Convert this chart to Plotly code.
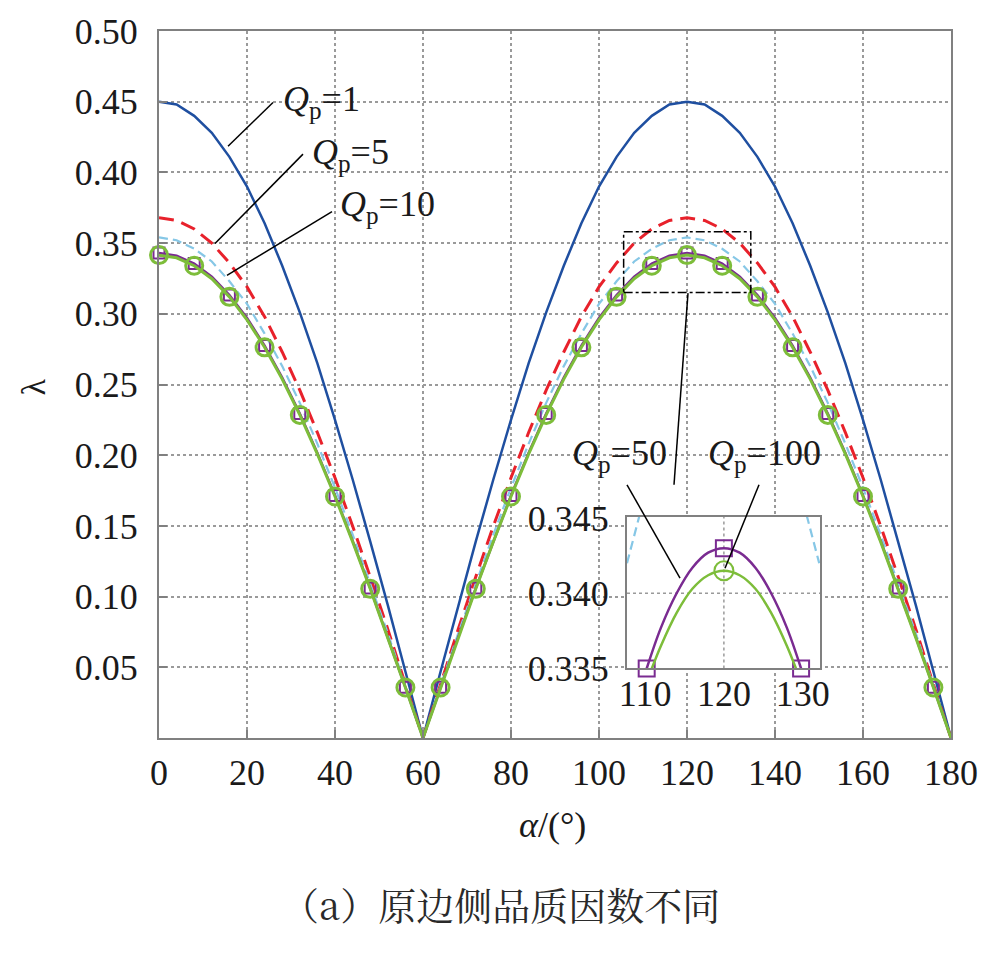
import plotly.graph_objects as go

# ---------------- data ----------------
alpha = [0, 4, 8, 12, 16, 20, 24, 28, 32, 36, 40, 44, 48, 52, 56, 60,
         64, 68, 72, 76, 80, 84, 88, 92, 96, 100, 104, 108, 112, 116, 120,
         124, 128, 132, 136, 140, 144, 148, 152, 156, 160, 164, 168, 172, 176, 180]

lam_q1 = [0.450, 0.448, 0.440, 0.428, 0.411, 0.390, 0.364, 0.334, 0.301, 0.265, 0.225, 0.183, 0.139, 0.094, 0.047, 0.000,
          0.047, 0.094, 0.139, 0.183, 0.225, 0.265, 0.301, 0.334, 0.364, 0.390, 0.411, 0.428, 0.440, 0.448, 0.450,
          0.448, 0.440, 0.428, 0.411, 0.390, 0.364, 0.334, 0.301, 0.265, 0.225, 0.183, 0.139, 0.094, 0.047, 0.000]

lam_q5 = [0.368, 0.366, 0.360, 0.350, 0.336, 0.319, 0.298, 0.273, 0.246, 0.216, 0.184, 0.150, 0.114, 0.077, 0.038, 0.000,
          0.038, 0.077, 0.114, 0.150, 0.184, 0.216, 0.246, 0.273, 0.298, 0.319, 0.336, 0.350, 0.360, 0.366, 0.368,
          0.366, 0.360, 0.350, 0.336, 0.319, 0.298, 0.273, 0.246, 0.216, 0.184, 0.150, 0.114, 0.077, 0.038, 0.000]

lam_q10 = [0.354, 0.352, 0.346, 0.337, 0.323, 0.307, 0.286, 0.263, 0.237, 0.208, 0.177, 0.144, 0.109, 0.074, 0.037, 0.000,
           0.037, 0.074, 0.109, 0.144, 0.177, 0.208, 0.237, 0.263, 0.286, 0.307, 0.323, 0.337, 0.346, 0.352, 0.354,
           0.352, 0.346, 0.337, 0.323, 0.307, 0.286, 0.263, 0.237, 0.208, 0.177, 0.144, 0.109, 0.074, 0.037, 0.000]

lam_q50 = [0.3415, 0.3396, 0.3340, 0.3248, 0.3120, 0.2957, 0.2763, 0.2538, 0.2285, 0.2007, 0.1708, 0.1389, 0.1055, 0.0710, 0.0357, 0.0,
           0.0357, 0.0710, 0.1055, 0.1389, 0.1708, 0.2007, 0.2285, 0.2538, 0.2763, 0.2957, 0.3120, 0.3248, 0.3340, 0.3396, 0.3415,
           0.3396, 0.3340, 0.3248, 0.3120, 0.2957, 0.2763, 0.2538, 0.2285, 0.2007, 0.1708, 0.1389, 0.1055, 0.0710, 0.0357, 0.0]

lam_q100 = [0.3430, 0.3411, 0.3355, 0.3262, 0.3133, 0.2970, 0.2775, 0.2549, 0.2295, 0.2016, 0.1715, 0.1395, 0.1060, 0.0713, 0.0359, 0.0,
            0.0359, 0.0713, 0.1060, 0.1395, 0.1715, 0.2016, 0.2295, 0.2549, 0.2775, 0.2970, 0.3133, 0.3262, 0.3355, 0.3411, 0.3430,
            0.3411, 0.3355, 0.3262, 0.3133, 0.2970, 0.2775, 0.2549, 0.2295, 0.2016, 0.1715, 0.1395, 0.1060, 0.0713, 0.0359, 0.0]

# marker positions (every second sample: 0, 8, ..., 176 deg)
mark_alpha = alpha[0:45:2]
mark_q50 = lam_q50[0:45:2]
mark_q100 = lam_q100[0:45:2]

# inset (zoom around the peak at 120 deg)
inset_alpha_q100 = [110.2, 112, 114, 116, 118, 120, 122, 124, 126, 128, 129.8]
inset_lam_q100 = [0.3350, 0.3377, 0.3400, 0.3417, 0.3427, 0.3430, 0.3427, 0.3417, 0.3400, 0.3377, 0.3350]
inset_mark_alpha_q100 = [110.2, 120, 129.8]
inset_mark_lam_q100 = [0.3350, 0.3430, 0.3350]

inset_alpha_q50 = [110.85, 112, 114, 116, 118, 120, 122, 124, 126, 128, 129.15]
inset_lam_q50 = [0.3350, 0.3365, 0.3387, 0.3403, 0.3412, 0.3415, 0.3412, 0.3403, 0.3387, 0.3365, 0.3350]
inset_mark_alpha_q50 = [120]
inset_mark_lam_q50 = [0.3415]

inset_alpha_q10 = [107.7, 108.5, 109.3, None, 130.5, 131.3, 132.1]
inset_lam_q10 = [0.3420, 0.3436, 0.3452, None, 0.3452, 0.3436, 0.3420]

x_ticks = [0, 20, 40, 60, 80, 100, 120, 140, 160, 180]
y_ticks = [0.05, 0.10, 0.15, 0.20, 0.25, 0.30, 0.35, 0.40, 0.45, 0.50]
inset_x_ticks = [110, 120, 130]
inset_y_ticks = [0.335, 0.340, 0.345]

# ---------------- styling ----------------
BLUE = "#1f4fa0"
RED = "#e8212b"
LBLUE = "#86c7e6"
GREEN = "#7dbd3a"
PURPLE = "#7a2b91"
AXC = "#808080"
GRIDC = "#9a9a9a"
TXT = "#1a1a1a"
SERIF = "'Liberation Serif', Tinos, 'Times New Roman', 'DejaVu Serif', serif"
CJK = "'Noto Serif CJK SC', 'Noto Sans CJK SC', sans-serif"

W, H = 997, 967
L, R, T, B = 159, 46, 26, 229
PW = W - L - R
PH = H - T - B


def px(xp):
    return (xp - L) / PW


def py(yp):
    return (H - B - yp) / PH


fig = go.Figure()

# main curves
fig.add_trace(go.Scatter(x=alpha, y=lam_q1, mode="lines", line=dict(color=BLUE, width=2.5)))
fig.add_trace(go.Scatter(x=alpha, y=lam_q5, mode="lines", line=dict(color=RED, width=3, dash="15px,8px")))
fig.add_trace(go.Scatter(x=alpha, y=lam_q10, mode="lines", line=dict(color=LBLUE, width=2.2, dash="9px,5px")))
fig.add_trace(go.Scatter(x=alpha, y=lam_q100, mode="lines", line=dict(color=PURPLE, width=2.5)))
fig.add_trace(go.Scatter(x=mark_alpha, y=mark_q100, mode="markers", cliponaxis=False,
                         marker=dict(symbol="square-open", size=11, color=PURPLE, line=dict(width=2, color=PURPLE))))
fig.add_trace(go.Scatter(x=alpha, y=lam_q50, mode="lines", line=dict(color=GREEN, width=3)))
fig.add_trace(go.Scatter(x=mark_alpha, y=mark_q50, mode="markers", cliponaxis=False,
                         marker=dict(symbol="circle-open", size=17, color=GREEN, line=dict(width=3, color=GREEN))))

# inset curves
fig.add_trace(go.Scatter(x=inset_alpha_q10, y=inset_lam_q10, mode="lines", xaxis="x2", yaxis="y2",
                         line=dict(color=LBLUE, width=2.2, dash="9px,5px"), connectgaps=False))
fig.add_trace(go.Scatter(x=inset_alpha_q100, y=inset_lam_q100, mode="lines", xaxis="x2", yaxis="y2",
                         line=dict(color=PURPLE, width=2.5, shape="spline")))
fig.add_trace(go.Scatter(x=inset_mark_alpha_q100, y=inset_mark_lam_q100, mode="markers", xaxis="x2", yaxis="y2",
                         cliponaxis=False,
                         marker=dict(symbol="square-open", size=16, color=PURPLE, line=dict(width=2, color=PURPLE))))
fig.add_trace(go.Scatter(x=inset_alpha_q50, y=inset_lam_q50, mode="lines", xaxis="x2", yaxis="y2",
                         line=dict(color=GREEN, width=2.5, shape="spline")))
fig.add_trace(go.Scatter(x=inset_mark_alpha_q50, y=inset_mark_lam_q50, mode="markers", xaxis="x2", yaxis="y2",
                         cliponaxis=False,
                         marker=dict(symbol="circle-open", size=19, color=GREEN, line=dict(width=2, color=GREEN))))

tickfont = dict(family=SERIF, size=36, color=TXT)

fig.update_layout(
    width=W, height=H, autosize=False,
    margin=dict(l=L, r=R, t=T, b=B),
    paper_bgcolor="white", plot_bgcolor="white",
    showlegend=False,
    font=dict(family=SERIF, size=36, color=TXT),
    xaxis=dict(domain=[0, 1], range=[0, 180], tickvals=x_ticks, ticktext=[str(v) for v in x_ticks],
               showgrid=True, gridcolor=GRIDC, gridwidth=1.5, griddash="dot", zeroline=False,
               showline=True, linecolor=AXC, linewidth=2, mirror=True,
               ticks="inside", ticklen=8, tickwidth=2, tickcolor=AXC,
               tickfont=tickfont, ticklabelstandoff=2),
    yaxis=dict(domain=[0, 1], range=[0, 0.5], tickvals=y_ticks, ticktext=["%.2f" % v for v in y_ticks],
               showgrid=True, gridcolor=GRIDC, gridwidth=1.5, griddash="dot", zeroline=False,
               showline=True, linecolor=AXC, linewidth=2, mirror=True,
               ticks="inside", ticklen=8, tickwidth=2, tickcolor=AXC,
               tickfont=tickfont, ticklabelstandoff=12),
    xaxis2=dict(domain=[px(627), px(820)], anchor="y2", range=[107.7, 132.2], tickvals=inset_x_ticks,
                ticktext=[str(v) for v in inset_x_ticks], showgrid=False, zeroline=False,
                showline=True, linecolor=AXC, linewidth=2, mirror=True, ticks="",
                tickfont=tickfont, ticklabelstandoff=-8),
    yaxis2=dict(domain=[py(668), py(515)], anchor="x2", range=[0.335, 0.3451], tickvals=inset_y_ticks,
                ticktext=["%.3f" % v for v in inset_y_ticks], showgrid=False, zeroline=False,
                showline=True, linecolor=AXC, linewidth=2, mirror=True, ticks="",
                tickfont=tickfont, ticklabelstandoff=9),
)

shapes = []
# white background of the inset (hides main gridlines) and its own dotted grid
shapes.append(dict(type="rect", xref="x2", yref="y2", x0=107.7, x1=132.2, y0=0.335, y1=0.3451,
                   fillcolor="white", line=dict(width=0), layer="below"))
shapes.append(dict(type="line", xref="x2", yref="y2", x0=120, x1=120, y0=0.335, y1=0.3451,
                   line=dict(color=GRIDC, width=1.5, dash="dot"), layer="below"))
shapes.append(dict(type="line", xref="x2", yref="y2", x0=107.7, x1=132.2, y0=0.340, y1=0.340,
                   line=dict(color=GRIDC, width=1.5, dash="dot"), layer="below"))
# dash-dot zoom box around the peak
shapes.append(dict(type="rect", xref="x", yref="y", x0=105.6, x1=134.5, y0=0.315, y1=0.358,
                   line=dict(color="black", width=1.5, dash="dashdot"), layer="above"))
# leader lines
for (x0, y0, x1, y1) in [(228, 142, 273, 98), (215, 240, 303, 150), (227, 272, 332, 208),
                         (688, 290, 674, 483), (627, 483, 680, 577), (759, 483, 725, 567)]:
    shapes.append(dict(type="line", xref="paper", yref="paper", x0=px(x0), y0=py(y0), x1=px(x1), y1=py(y1),
                       line=dict(color="black", width=1.5), layer="above"))
fig.update_layout(shapes=shapes)

labfont = dict(family=SERIF, size=36, color=TXT)
ann = []
for text, xl, yc in [("<i>Q</i><sub>p</sub>=1", 281, 97), ("<i>Q</i><sub>p</sub>=5", 310, 150),
                     ("<i>Q</i><sub>p</sub>=10", 338, 203), ("<i>Q</i><sub>p</sub>=50", 570, 454),
                     ("<i>Q</i><sub>p</sub>=100", 706, 453)]:
    ann.append(dict(text=text, x=px(xl), y=py(yc), xref="paper", yref="paper", xanchor="left",
                    yanchor="middle", showarrow=False, font=labfont))
ann.append(dict(text="λ", x=px(33), y=py(385), xref="paper", yref="paper", xanchor="center",
                yanchor="middle", showarrow=False, textangle=-90, font=dict(family=SERIF, size=34, color=TXT)))
ann.append(dict(text="<i>α</i>/(°)", x=px(552), y=py(826), xref="paper", yref="paper", xanchor="center",
                yanchor="middle", showarrow=False, font=dict(family=SERIF, size=36, color=TXT)))
ann.append(dict(text="（a）原边侧品质因数不同", x=px(500), y=py(905), xref="paper", yref="paper",
                xanchor="center", yanchor="middle", showarrow=False,
                font=dict(family=CJK, size=38, color="#2a2a2a")))
fig.update_layout(annotations=ann)

fig.write_html("out.html")
